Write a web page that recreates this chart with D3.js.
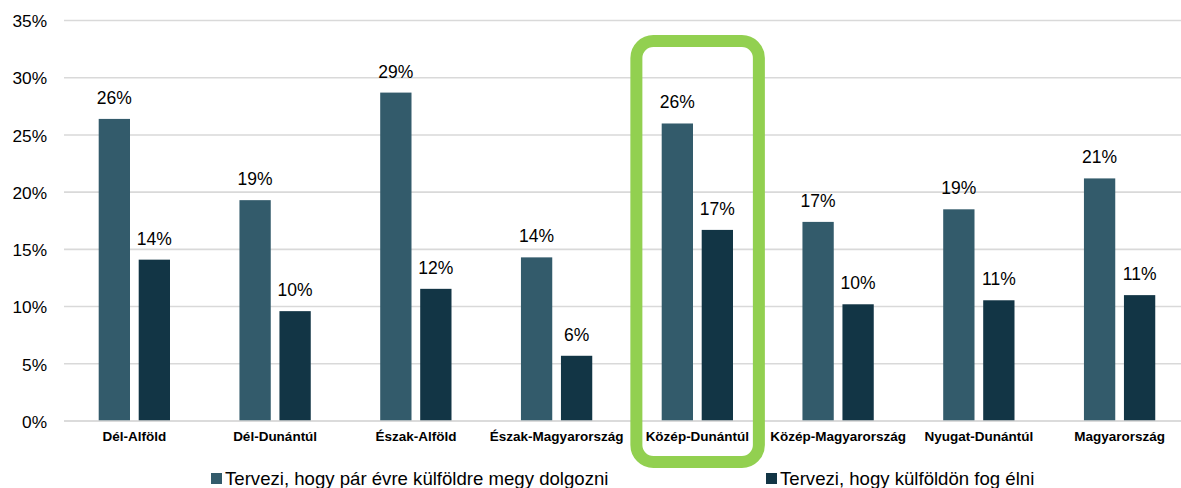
<!DOCTYPE html>
<html>
<head>
<meta charset="utf-8">
<script src="https://cdn.jsdelivr.net/npm/d3@7"></script>
<style>
  html, body { margin: 0; padding: 0; background: #fff; }
  svg { display: block; font-family: "Liberation Sans", Arial, sans-serif; }
</style>
</head>
<body>
<svg id="chart" width="1181" height="488"></svg>
<script>
const categories = ["Dél-Alföld", "Dél-Dunántúl", "Észak-Alföld", "Észak-Magyarország", "Közép-Dunántúl", "Közép-Magyarország", "Nyugat-Dunántúl", "Magyarország"];
const seriesNames = ["Tervezi, hogy pár évre külföldre megy dolgozni", "Tervezi, hogy külföldön fog élni"];
const workAbroad = [26.4, 19.3, 28.7, 14.3, 26.0, 17.4, 18.5, 21.2];
const liveAbroad = [14.1, 9.6, 11.55, 5.7, 16.7, 10.2, 10.55, 11.0];
const yTicks = [0, 5, 10, 15, 20, 25, 30, 35];
const highlighted = "Közép-Dunántúl";
const colors = ["#335b6b", "#123545"];

const svg = d3.select("#chart");
const plotLeft = 64, plotRight = 1190, plotTop = 20.5, plotBottom = 421;

const x = d3.scaleBand().domain(categories).range([plotLeft, plotRight]).paddingInner(0).paddingOuter(0);
const x1 = d3.scaleBand().domain(seriesNames).range([34.7, 106]).paddingInner(0.2175).paddingOuter(0);
const y = d3.scaleLinear().domain([0, 35]).range([plotBottom, plotTop]);

// gridlines
svg.append("g").selectAll("line").data(yTicks).join("line")
  .attr("x1", plotLeft).attr("x2", plotRight)
  .attr("y1", d => y(d)).attr("y2", d => y(d))
  .attr("stroke", "#d9d9d9").attr("stroke-width", 1.6);

// y axis labels
const yAxis = d3.axisLeft(y).tickValues(yTicks).tickFormat(d => d + "%").tickSize(0).tickPadding(0);
const yg = svg.append("g").attr("transform", `translate(47,0)`).call(yAxis);
yg.select(".domain").remove();
yg.selectAll("text").attr("font-size", 17.3).attr("fill", "#000").attr("font-family", "Liberation Sans, Arial, sans-serif").attr("dy", "0.36em");

// data
const rows = categories.map((c, i) => ({ cat: c, vals: [workAbroad[i], liveAbroad[i]] }));

const groups = svg.append("g").selectAll("g").data(rows).join("g")
  .attr("transform", d => `translate(${x(d.cat)},0)`);

groups.selectAll("rect").data(d => d.vals.map((v, j) => ({ s: seriesNames[j], v, j }))).join("rect")
  .attr("x", d => x1(d.s))
  .attr("width", x1.bandwidth())
  .attr("y", d => y(d.v))
  .attr("height", d => y(0) - y(d.v))
  .attr("fill", d => colors[d.j]);

groups.selectAll("text.val").data(d => d.vals.map((v, j) => ({ s: seriesNames[j], v, j }))).join("text")
  .attr("class", "val")
  .attr("x", d => x1(d.s) + x1.bandwidth() / 2)
  .attr("y", d => y(d.v) - 15)
  .attr("text-anchor", "middle")
  .attr("font-size", 17.5)
  .attr("fill", "#000")
  .text(d => Math.round(d.v) + "%");

// baseline
svg.append("line").attr("x1", plotLeft).attr("x2", plotRight).attr("y1", y(0)).attr("y2", y(0))
  .attr("stroke", "#d9d9d9").attr("stroke-width", 1.6);

// category labels
const xAxis = d3.axisBottom(x).tickSize(0).tickPadding(0);
const xg = svg.append("g").attr("transform", `translate(0,${plotBottom})`).call(xAxis);
xg.select(".domain").remove();
xg.selectAll("text").attr("font-size", 13.5).attr("font-weight", "bold").attr("fill", "#000")
  .attr("font-family", "Liberation Sans, Arial, sans-serif")
  .attr("dy", null).attr("y", 20);

// highlight box
const hc = x(highlighted) + x.bandwidth() / 2;
svg.append("rect")
  .attr("x", hc - 61).attr("y", 41)
  .attr("width", 122.5).attr("height", 421)
  .attr("rx", 17).attr("ry", 17)
  .attr("fill", "none").attr("stroke", "#92d050").attr("stroke-width", 12);

// legend
const legendX = [211, 766];
const lg = svg.append("g").selectAll("g").data(seriesNames).join("g")
  .attr("transform", (d, i) => `translate(${legendX[i]},0)`);
lg.append("rect").attr("x", 0).attr("y", 473).attr("width", 11).attr("height", 11)
  .attr("fill", (d, i) => colors[i]);
lg.append("text").attr("x", 14).attr("y", 485).attr("font-size", 18.6).attr("fill", "#000").text(d => d);
</script>
</body>
</html>
